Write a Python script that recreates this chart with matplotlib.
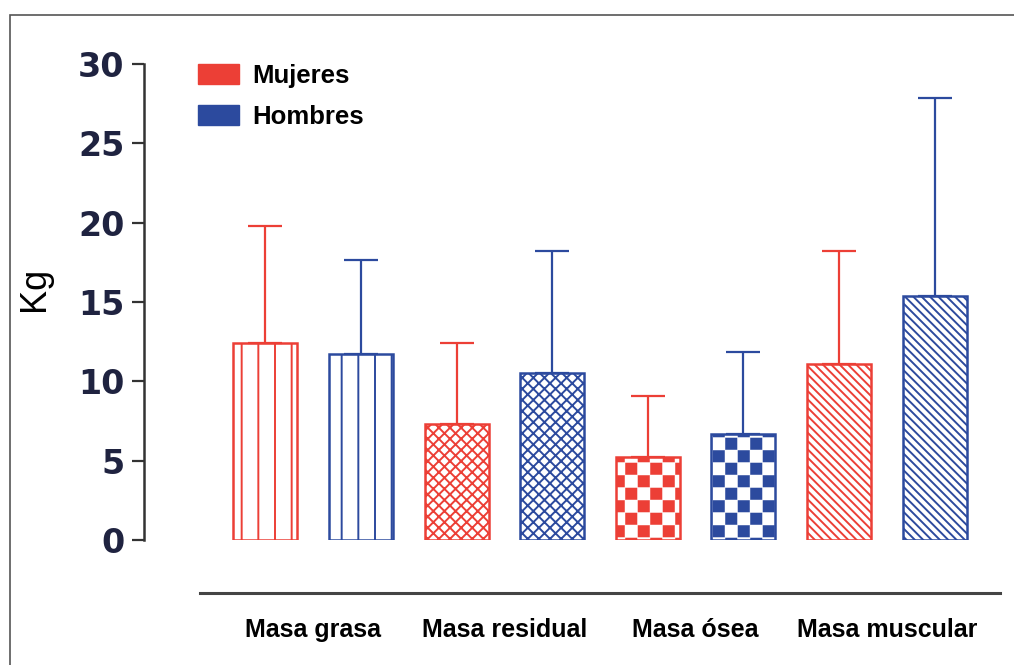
import warnings
import numpy as np
import matplotlib
matplotlib.use('Agg')
import matplotlib.pyplot as plt
from matplotlib import hatch as mhatch
from matplotlib.path import Path
from matplotlib.patches import Patch, Rectangle

warnings.filterwarnings('ignore')

# data (kg), mean and upper error
categorias = ['Masa grasa', 'Masa residual', 'Masa ósea', 'Masa muscular']
mujeres = [12.4, 7.3, 5.25, 11.1]
mujeres_sd = [7.4, 5.1, 3.85, 7.1]
hombres = [11.7, 10.5, 6.65, 15.4]
hombres_sd = [5.95, 7.7, 5.2, 12.45]
y_ticks = [0, 5, 10, 15, 20, 25, 30]

red = '#ec3f36'
blue = '#2c4a9e'
hatches = ['|', 'xxx', 'c', '\\\\\\\\']


# checkerboard hatch ('c'), matplotlib has none
class CheckerHatch(mhatch.HatchPatternBase):
    filled = True

    def __init__(self, hatch, density):
        self.n = hatch.count('c') * 8
        cells = [(i, j) for i in range(self.n) for j in range(self.n) if (i + j) % 2 == 0]
        self.cells = cells
        self.num_vertices = len(cells) * 5

    def set_vertices_and_codes(self, vertices, codes):
        s = 1.0 / self.n
        d = 0.012
        k = 0
        for i, j in self.cells:
            x0, y0 = i * s + d, j * s + d
            x1, y1 = (i + 1) * s - d, (j + 1) * s - d
            vertices[k:k + 5] = [(x0, y0), (x1, y0), (x1, y1), (x0, y1), (x0, y0)]
            codes[k:k + 5] = [Path.MOVETO, Path.LINETO, Path.LINETO, Path.LINETO, Path.CLOSEPOLY]
            k += 5


mhatch._hatch_types.append(CheckerHatch)

plt.rcParams['font.family'] = ['Liberation Sans', 'DejaVu Sans']
plt.rcParams['hatch.linewidth'] = 1.4

fig = plt.figure(figsize=(10.14, 6.65), dpi=100)
ax = fig.add_axes([200 / 1014, 1 - 540 / 665, 800 / 1014, 476 / 665])

# outer frame (left and top edges only visible)
fig.add_artist(Rectangle((10 / 1014, -0.2), 1.5, 1.2 - 15 / 665,
                         transform=fig.transFigure, fill=False,
                         edgecolor='#555555', lw=1.2))

width = 0.67
for g in range(len(categorias)):
    for k, (vals, sds, col) in enumerate([(mujeres, mujeres_sd, red),
                                          (hombres, hombres_sd, blue)]):
        x = 2 * g + k
        ax.bar(x, vals[g], width, facecolor='none', edgecolor=col,
               hatch=hatches[g], linewidth=1.8, zorder=2)
        ax.errorbar(x, vals[g], yerr=[[0], [sds[g]]], fmt='none',
                    ecolor=col, elinewidth=1.6, capsize=12, capthick=1.6, zorder=1)

ax.set_xlim(-0.685, 7.685)
ax.set_ylim(0, 30)

for s in ['top', 'right']:
    ax.spines[s].set_visible(False)
ax.spines['left'].set_position(('outward', 40))
ax.spines['left'].set_bounds(0, 30)
ax.spines['left'].set_color('#333333')
ax.spines['left'].set_linewidth(1.8)
ax.spines['bottom'].set_position(('outward', 38))
ax.spines['bottom'].set_color('#444444')
ax.spines['bottom'].set_linewidth(2.2)

ax.set_yticks(y_ticks)
ax.set_yticklabels([str(t) for t in y_ticks], fontsize=24, fontweight='bold',
                   color='#1f2340', family='DejaVu Sans')
ax.tick_params(axis='y', length=8.5, width=1.6, color='#333333', pad=6)

ax.set_xticks([2 * g + 0.5 for g in range(len(categorias))])
ax.set_xticklabels(categorias, fontsize=18, fontweight='bold')
ax.tick_params(axis='x', length=0, pad=18)

ax.set_ylabel('Kg', fontsize=26)
ax.yaxis.set_label_coords(-0.185, 0.528)

handles = [Patch(facecolor=red, edgecolor=red), Patch(facecolor=blue, edgecolor=blue)]
ax.legend(handles, ['Mujeres', 'Hombres'], loc='upper left',
          bbox_to_anchor=(-0.0025, 1.0), frameon=False,
          prop={'weight': 'bold', 'size': 18.5}, handlelength=1.6,
          handleheight=0.85, handletextpad=0.5, labelspacing=0.65,
          borderpad=0, borderaxespad=0)

fig.savefig('out.png', dpi=100)
